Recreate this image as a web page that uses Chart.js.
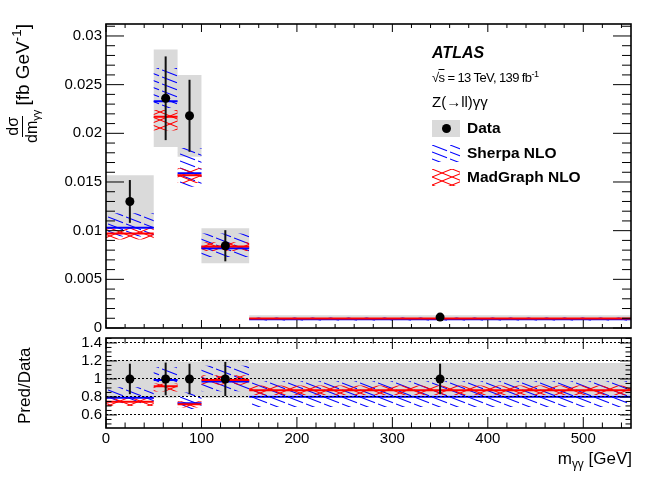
<!DOCTYPE html>
<html>
<head>
<meta charset="utf-8">
<script src="https://cdn.jsdelivr.net/npm/chart.js@4.4.1/dist/chart.umd.min.js"></script>
<style>
  html, body { margin: 0; padding: 0; background: #fff; }
  body { width: 664px; height: 479px; position: relative; overflow: hidden;
         font-family: 'Liberation Sans', Arial, sans-serif; color: #000; }
  #mainChart { position: absolute; left: 0; top: 0; }
  #ratioChart { position: absolute; left: 0; top: 313px; }
  .txt { position: absolute; white-space: nowrap; line-height: 1; }
  .rot { position: absolute; transform-origin: left top; transform: rotate(-90deg);
         white-space: nowrap; line-height: 1; display: flex; align-items: center; }
  .frac { display: inline-flex; flex-direction: column; align-items: center; font-size: 16px; margin-right: 4px; }
  .frac .num { border-bottom: 1.5px solid #000; padding: 0 1px 1px; }
  .frac .den { padding-top: 1px; }
  sub { font-size: 70%; vertical-align: -0.3em; line-height: 0; }
  sup { font-size: 70%; vertical-align: 0.6em; line-height: 0; }
  .key { position: absolute; width: 28px; height: 17px; }
</style>
</head>
<body>
<canvas id="mainChart" width="664" height="353"></canvas>
<canvas id="ratioChart" width="664" height="166"></canvas>

<div class="rot" style="left:5px; top:143px; font-size:19px;">
  <span class="frac"><span class="num">dσ</span><span class="den">dm<sub>γγ</sub></span></span>
  <span>[fb GeV<sup>-1</sup>]</span>
</div>
<div class="rot" style="left:16px; top:424px; font-size:17px;">Pred/Data</div>
<div class="txt" style="right:32px; top:450px; font-size:17px;">m<sub>γγ</sub> [GeV]</div>

<div class="txt" style="left:432px; top:45px; font-size:16px; font-weight:bold; font-style:italic;">ATLAS</div>
<div class="txt" style="left:432px; top:71px; font-size:13px; letter-spacing:-0.6px;">√<span style="text-decoration:overline">s</span> = 13 TeV, 139 fb<sup>-1</sup></div>
<div class="txt" style="left:432px; top:94px; font-size:15px;">Z(→ll)γγ</div>

<div class="key" style="left:432px; top:120px; background:#dadada;"></div>
<div style="position:absolute; left:442px; top:124px; width:9px; height:9px; border-radius:50%; background:#000;"></div>
<div class="txt" style="left:467px; top:120px; font-size:15.5px; font-weight:bold;">Data</div>
<canvas class="key" id="keySherpa" width="28" height="17" style="left:432px; top:145px;"></canvas>
<div class="txt" style="left:467px; top:145px; font-size:15.5px; font-weight:bold;">Sherpa NLO</div>
<canvas class="key" id="keyMadgraph" width="28" height="17" style="left:432px; top:169px;"></canvas>
<div class="txt" style="left:467px; top:169px; font-size:15.5px; font-weight:bold;">MadGraph NLO</div>

<script>
// bins in m_yy [GeV]
const binEdges = [0, 50, 75, 100, 150, 550];
const binCentres = [25, 62.5, 87.5, 125, 350];

// measured cross section [fb/GeV]
const dataValues = [0.0130, 0.0236, 0.0218, 0.00845, 0.00112];
const dataStatErr = [0.0022, 0.0043, 0.0037, 0.0016, 0.00019];
const dataTotalErr = [0.0027, 0.0050, 0.0042, 0.0018, 0.00020];

// predictions
const sherpaValues = [0.0103, 0.0233, 0.0159, 0.0082, 0.00090];
const sherpaLow = [0.0094, 0.0226, 0.0145, 0.0073, 0.00077];
const sherpaHigh = [0.0118, 0.0267, 0.0185, 0.0097, 0.00109];
const madgraphValues = [0.0097, 0.0217, 0.0157, 0.00836, 0.00098];
const madgraphLow = [0.0091, 0.0203, 0.0149, 0.0079, 0.00092];
const madgraphHigh = [0.0103, 0.0224, 0.0164, 0.0088, 0.00104];

// axis ticks
const xTicks = [0, 100, 200, 300, 400, 500];
const mainYTicks = [0, 0.005, 0.01, 0.015, 0.02, 0.025, 0.03];
const ratioYTicks = [0.6, 0.8, 1, 1.2, 1.4];

const FONT = "'Liberation Sans', Arial, sans-serif";
Chart.defaults.font.family = FONT;
Chart.defaults.color = '#000';

// ROOT-like hatch fills
function makeHatch(color, crossed) {
    const w = crossed ? 20 : 18, h = crossed ? 8 : 7;
    const c = document.createElement('canvas');
    c.width = w; c.height = h;
    const g = c.getContext('2d');
    g.strokeStyle = color;
    g.lineWidth = 1.1;
    for (const dy of [-h, 0, h]) {
        g.beginPath();
        g.moveTo(0, dy);
        g.lineTo(crossed ? w : w - 3, dy + (crossed ? h : h * (w - 3) / w));
        g.stroke();
        if (crossed) {
            g.beginPath();
            g.moveTo(0, dy + h);
            g.lineTo(w, dy);
            g.stroke();
        }
    }
    return g.createPattern(c, 'repeat');
}
const blueHatch = makeHatch('#0000ff', false);
const redHatch = makeHatch('#ff0000', true);

['keySherpa', 'keyMadgraph'].forEach((id, i) => {
    const g = document.getElementById(id).getContext('2d');
    g.fillStyle = i === 0 ? blueHatch : redHatch;
    g.fillRect(0, 0, 28, 17);
});

// helpers: stepped edges for boxes, separate segments for central values
const stepPoints = vals => binEdges.map((x, i) => ({ x, y: vals[Math.min(i, vals.length - 1)] }));
const binSegments = vals => vals.flatMap((v, i) => [
    { x: binEdges[i], y: v }, { x: binEdges[i + 1], y: v }, { x: binEdges[i + 1], y: null }
]);

function edge(vals, order) {
    return { data: stepPoints(vals), stepped: true, borderColor: 'rgba(0,0,0,0)', borderWidth: 0,
             pointRadius: 0, fill: false, order };
}
function band(vals, bg, order) {
    return { data: stepPoints(vals), stepped: true, borderColor: 'rgba(0,0,0,0)', borderWidth: 0,
             pointRadius: 0, fill: '-1', backgroundColor: bg, order };
}
function segs(vals, color, order) {
    return { data: binSegments(vals), borderColor: color, borderWidth: 2, pointRadius: 0,
             spanGaps: false, fill: false, order };
}

function panelDatasets(p) {
    return [
        { type: 'scatter', data: binCentres.map((x, i) => ({ x, y: p.pts[i] })),
          errMinus: p.err, errPlus: p.err, pointRadius: 4.5, pointHoverRadius: 4.5,
          backgroundColor: '#000', borderWidth: 0, order: 0 },
        segs(p.mg, '#ff0000', 1),
        segs(p.sh, '#0000ff', 2),
        edge(p.mgLo, 3), band(p.mgHi, redHatch, 3),
        edge(p.shLo, 4), band(p.shHi, blueHatch, 4),
        edge(p.totLo, 5), band(p.totHi, '#dadada', 5)
    ];
}

// inward ticks on all four sides plus the frame
const atlasAxes = {
    id: 'atlasAxes',
    afterDatasetsDraw(chart, args, o) {
        const { ctx, chartArea: a, scales: { x, y } } = chart;
        ctx.save();
        ctx.strokeStyle = '#000';
        ctx.lineWidth = 1;
        ctx.beginPath();
        const nx = Math.round(o.xMajor / o.xMinor);
        for (let k = Math.ceil(x.min / o.xMinor - 1e-9); k * o.xMinor <= x.max + 1e-9; k++) {
            const px = x.getPixelForValue(k * o.xMinor);
            const L = k % nx === 0 ? o.xLen : o.xLen / 2;
            ctx.moveTo(px, a.bottom); ctx.lineTo(px, a.bottom - L);
            ctx.moveTo(px, a.top); ctx.lineTo(px, a.top + L);
        }
        const ny = Math.round(o.yMajor / o.yMinor);
        for (let k = Math.ceil(y.min / o.yMinor - 1e-9); k * o.yMinor <= y.max + 1e-9; k++) {
            const py = y.getPixelForValue(k * o.yMinor);
            const L = k % ny === 0 ? o.yLen : o.yLen / 2;
            ctx.moveTo(a.left, py); ctx.lineTo(a.left + L, py);
            ctx.moveTo(a.right, py); ctx.lineTo(a.right - L, py);
        }
        ctx.stroke();
        ctx.lineWidth = 1.6;
        ctx.strokeRect(a.left, a.top, a.right - a.left, a.bottom - a.top);
        ctx.restore();
    }
};

const errorBars = {
    id: 'errorBars',
    beforeDatasetDraw(chart, args) {
        const ds = chart.data.datasets[args.index];
        if (!ds.errMinus) return;
        const { ctx, scales: { y } } = chart;
        ctx.save();
        ctx.strokeStyle = '#111';
        ctx.lineWidth = 2;
        args.meta.data.forEach((pt, i) => {
            const v = ds.data[i].y;
            ctx.beginPath();
            ctx.moveTo(pt.x, y.getPixelForValue(v - ds.errMinus[i]));
            ctx.lineTo(pt.x, y.getPixelForValue(v + ds.errPlus[i]));
            ctx.stroke();
        });
        ctx.restore();
    }
};

const baseOptions = {
    responsive: false,
    animation: false,
    events: [],
    plugins: { legend: { display: false }, tooltip: { enabled: false } }
};

// main panel (canvas runs 25px past the frame so label overhang never squeezes it)
new Chart(document.getElementById('mainChart'), {
    type: 'line',
    data: {
        datasets: panelDatasets({
            pts: dataValues, err: dataStatErr,
            totLo: dataValues.map((v, i) => v - dataTotalErr[i]),
            totHi: dataValues.map((v, i) => v + dataTotalErr[i]),
            sh: sherpaValues, shLo: sherpaLow, shHi: sherpaHigh,
            mg: madgraphValues, mgLo: madgraphLow, mgHi: madgraphHigh
        })
    },
    options: {
        ...baseOptions,
        layout: { padding: { left: 0, right: 33, top: 24, bottom: 25 } },
        plugins: { ...baseOptions.plugins,
            atlasAxes: { xMinor: 20, xMajor: 100, xLen: 8, yMinor: 0.001, yMajor: 0.005, yLen: 18 } },
        scales: {
            x: { type: 'linear', min: 0, max: 550,
                 ticks: { display: false }, grid: { display: false, drawTicks: false },
                 border: { display: false }, afterFit: s => { s.height = 0; } },
            y: { type: 'linear', min: 0, max: 0.03123,
                 afterBuildTicks: s => { s.ticks = mainYTicks.map(v => ({ value: v })); },
                 ticks: { callback: v => String(v), font: { size: 15 }, padding: 4, autoSkip: false },
                 grid: { display: false, drawTicks: false }, border: { display: false },
                 afterFit: s => { s.width = 106; } }
        }
    },
    plugins: [atlasAxes, errorBars]
});

// ratio panel
const toRatio = arr => arr.map((v, i) => v / dataValues[i]);
new Chart(document.getElementById('ratioChart'), {
    type: 'line',
    data: {
        datasets: panelDatasets({
            pts: dataValues.map(() => 1), err: toRatio(dataStatErr),
            totLo: dataTotalErr.map((e, i) => 1 - e / dataValues[i]),
            totHi: dataTotalErr.map((e, i) => 1 + e / dataValues[i]),
            sh: toRatio(sherpaValues), shLo: toRatio(sherpaLow), shHi: toRatio(sherpaHigh),
            mg: toRatio(madgraphValues), mgLo: toRatio(madgraphLow), mgHi: toRatio(madgraphHigh)
        })
    },
    options: {
        ...baseOptions,
        layout: { padding: { left: 0, right: 33, top: 25, bottom: 0 } },
        plugins: { ...baseOptions.plugins,
            atlasAxes: { xMinor: 20, xMajor: 100, xLen: 11, yMinor: 0.05, yMajor: 0.2, yLen: 11 } },
        scales: {
            x: { type: 'linear', min: 0, max: 550,
                 afterBuildTicks: s => { s.ticks = xTicks.map(v => ({ value: v })); },
                 ticks: { callback: v => String(v), font: { size: 15 }, padding: 2,
                          autoSkip: false, maxRotation: 0 },
                 grid: { display: false, drawTicks: false }, border: { display: false },
                 afterFit: s => { s.height = 51; } },
            y: { type: 'linear', min: 0.455, max: 1.455,
                 afterBuildTicks: s => { s.ticks = ratioYTicks.map(v => ({ value: v })); },
                 ticks: { callback: v => String(v), font: { size: 15 }, padding: 4, autoSkip: false },
                 grid: { display: true, drawTicks: false, color: '#000', lineWidth: 1, z: 1 },
                 border: { display: false, dash: [2, 2] },
                 afterFit: s => { s.width = 106; } }
        }
    },
    plugins: [atlasAxes, errorBars]
});
</script>
</body>
</html>
